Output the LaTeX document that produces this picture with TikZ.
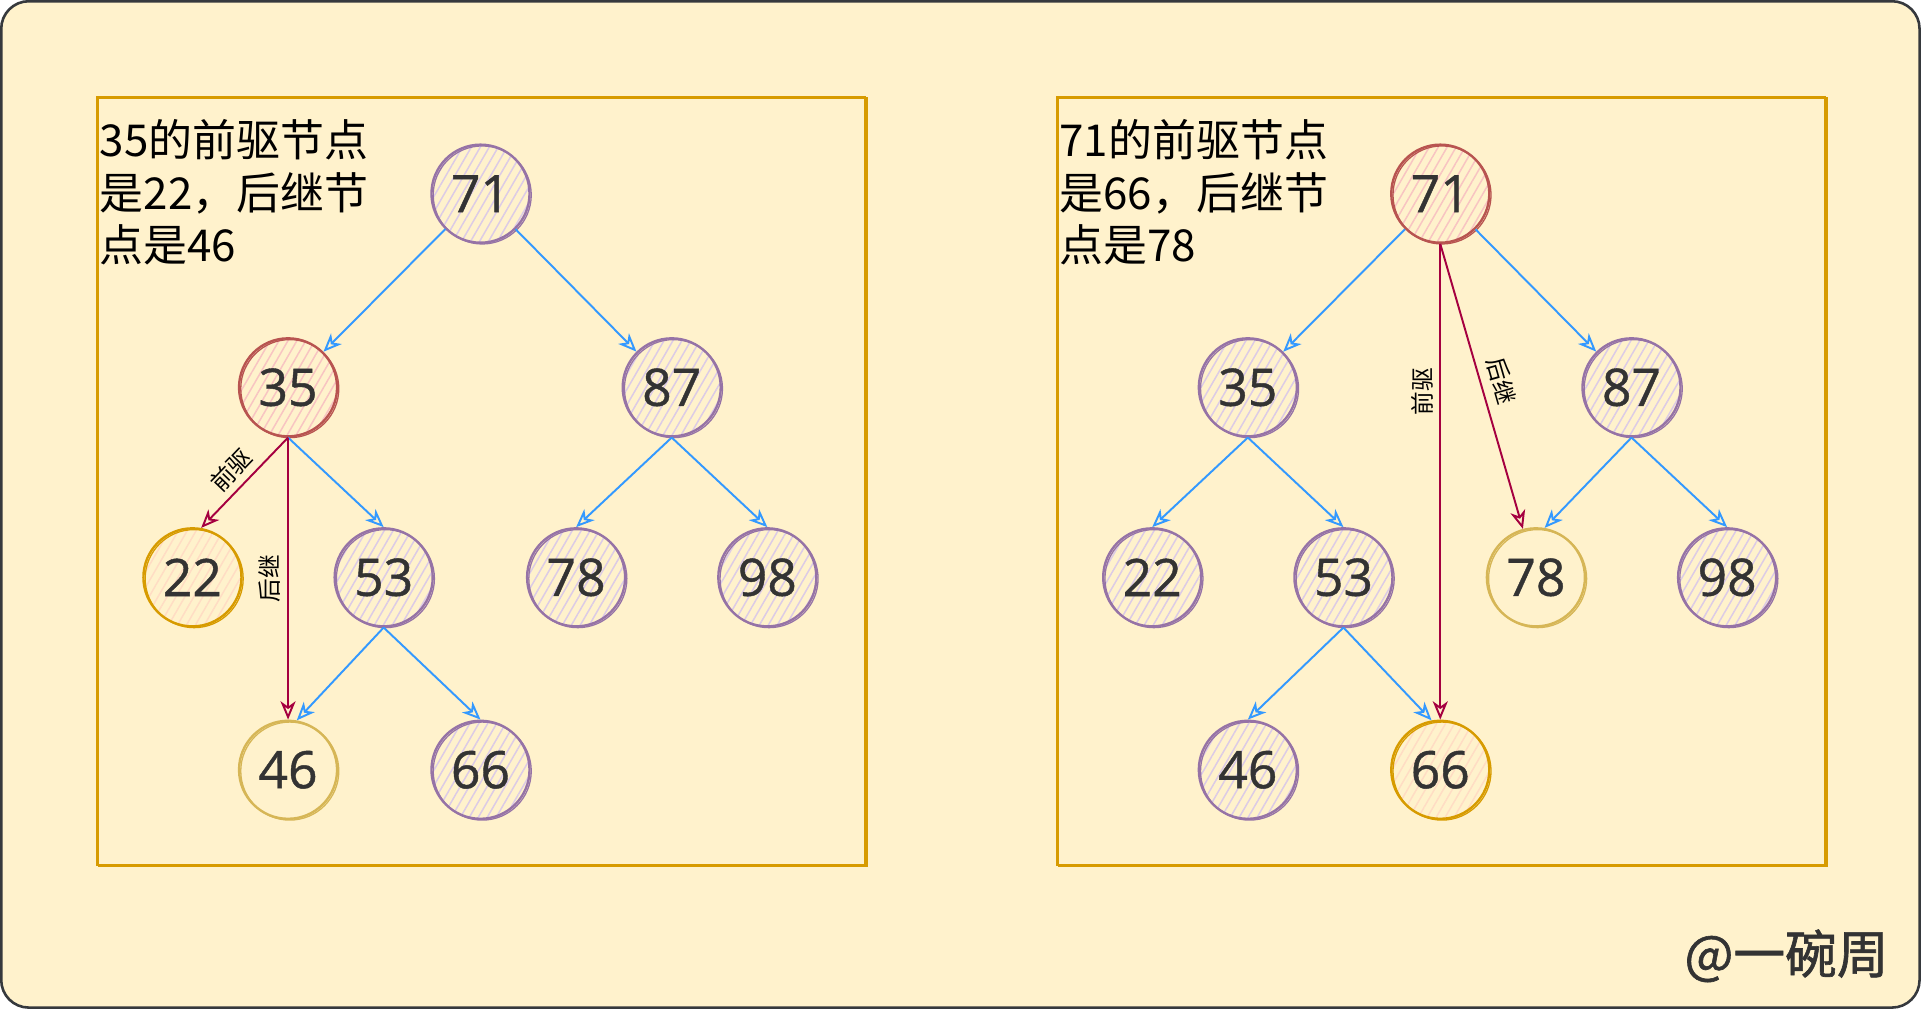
\documentclass[tikz,border=0pt]{standalone}
\usepackage{fontspec}
\usepackage{xcolor}
\usetikzlibrary{arrows.meta,patterns.meta}
\newfontfamily\cjk{Noto Sans CJK SC}
\newfontfamily\cjkmark[FakeBold=1.2]{Noto Sans CJK SC}
\newfontfamily\digitfont[FakeBold=0.8]{Open Sans}
\definecolor{bgyellow}{HTML}{FFF2CC}
\definecolor{boxorange}{HTML}{D79B00}
\definecolor{borderdark}{HTML}{36393D}
\definecolor{purpledraw}{HTML}{9673A6}
\definecolor{purplefill}{HTML}{DCCBE6}
\definecolor{reddraw}{HTML}{B85450}
\definecolor{redfill}{HTML}{F8C4C2}
\definecolor{orangefill}{HTML}{FFDDC4}
\definecolor{yellowdraw}{HTML}{D6B656}
\definecolor{edgeblue}{HTML}{3399FF}
\definecolor{edgered}{HTML}{A50040}
\definecolor{textdark}{HTML}{333333}
\tikzset{
  sketch/.style={postaction={draw, line width=0.6pt, transform canvas={shift={(0.8pt,-0.6pt)}}}},
  treenode/.style={circle, minimum size=1.6cm, inner sep=0pt, line width=1.1pt, sketch,
    text=textdark, font=\digitfont\fontsize{24}{24}\selectfont},
  hatch/.style={pattern={Lines[angle=60,distance=3.6pt,line width=0.7pt]}, pattern color=#1},
  purplenode/.style={treenode, draw=purpledraw, hatch=purplefill},
  rednode/.style={treenode, draw=reddraw, hatch=redfill},
  orangenode/.style={treenode, draw=boxorange, hatch=orangefill},
  yellownode/.style={treenode, draw=yellowdraw},
  blueedge/.style={draw=edgeblue, line width=0.9pt, -{Stealth[open,length=8.5pt,width=7pt,inset=2.5pt]}},
  rededge/.style={draw=edgered, line width=0.9pt, -{Stealth[open,length=8.5pt,width=7pt,inset=2.5pt]}},
  edgelabel/.style={font=\cjk\fontsize{11}{11}\selectfont, inner sep=1pt, text=black},
  notetext/.style={font=\cjk\fontsize{20.4}{24.4}\selectfont, align=left, inner sep=0pt, text=black}
}
\begin{document}
\begin{tikzpicture}[x=0.02cm, y=-0.02cm]
\useasboundingbox (0,0) rectangle (1568,824);
\draw[borderdark, fill=bgyellow, line width=1.2pt, rounded corners=0.45cm] (1,1) rectangle (1566,822);
\draw[boxorange, line width=1pt, sketch] (79,79) rectangle (706,706);
\draw[boxorange, line width=1pt, sketch] (862,79) rectangle (1489,706);

\node[notetext, anchor=north west] (leftnote) at (81,97) {35的前驱节点\\是22，后继节\\点是46};
\node[purplenode] (L71) at (392,158) {71};
\node[rednode] (L35) at (235,316) {35};
\node[purplenode] (L87) at (548,316) {87};
\node[orangenode] (L22) at (157,471) {22};
\node[purplenode] (L53) at (313,471) {53};
\node[purplenode] (L78) at (470,471) {78};
\node[purplenode] (L98) at (626,471) {98};
\node[yellownode] (L46) at (235,628) {46};
\node[purplenode] (L66) at (392,628) {66};
\draw[blueedge] (L71) -- (L35);
\draw[blueedge] (L71) -- (L87);
\draw[blueedge] (L35.south) -- (L53.north);
\draw[blueedge] (L87.south) -- (L78.north);
\draw[blueedge] (L87.south) -- (L98.north);
\draw[blueedge] (L53.south) -- (L46.80);
\draw[blueedge] (L53.south) -- (L66.north);
\draw[rededge] (L35.south) -- node[edgelabel, sloped, above=2pt, pos=0.5] {前驱} (L22.80);
\draw[rededge] (L35.south) -- node[edgelabel, rotate=90, anchor=south, yshift=2pt, pos=0.5] {后继} (L46.north);

\node[notetext, anchor=north west] (rightnote) at (864,97) {71的前驱节点\\是66，后继节\\点是78};
\node[rednode] (R71) at (1175,158) {71};
\node[purplenode] (R35) at (1018,316) {35};
\node[purplenode] (R87) at (1331,316) {87};
\node[purplenode] (R22) at (940,471) {22};
\node[purplenode] (R53) at (1096,471) {53};
\node[yellownode] (R78) at (1253,471) {78};
\node[purplenode] (R98) at (1409,471) {98};
\node[purplenode] (R46) at (1018,628) {46};
\node[orangenode] (R66) at (1175,628) {66};
\draw[blueedge] (R71) -- (R35);
\draw[blueedge] (R71) -- (R87);
\draw[blueedge] (R35.south) -- (R22.north);
\draw[blueedge] (R35.south) -- (R53.north);
\draw[blueedge] (R87.south) -- (R78.80);
\draw[blueedge] (R87.south) -- (R98.north);
\draw[blueedge] (R53.south) -- (R46.north);
\draw[blueedge] (R53.south) -- (R66.100);
\draw[rededge] (R71.south) -- node[edgelabel, rotate=90, anchor=south, yshift=2pt, pos=0.31] {前驱} (R66.north);
\draw[rededge] (R71.south) -- node[edgelabel, sloped, above=3pt, pos=0.5] {后继} (R78.105);

\node[font=\cjkmark\fontsize{24}{24}\selectfont, text=textdark, anchor=base east, inner sep=0pt] (mark) at (1541,794) {@一碗周};
\end{tikzpicture}
\end{document}
